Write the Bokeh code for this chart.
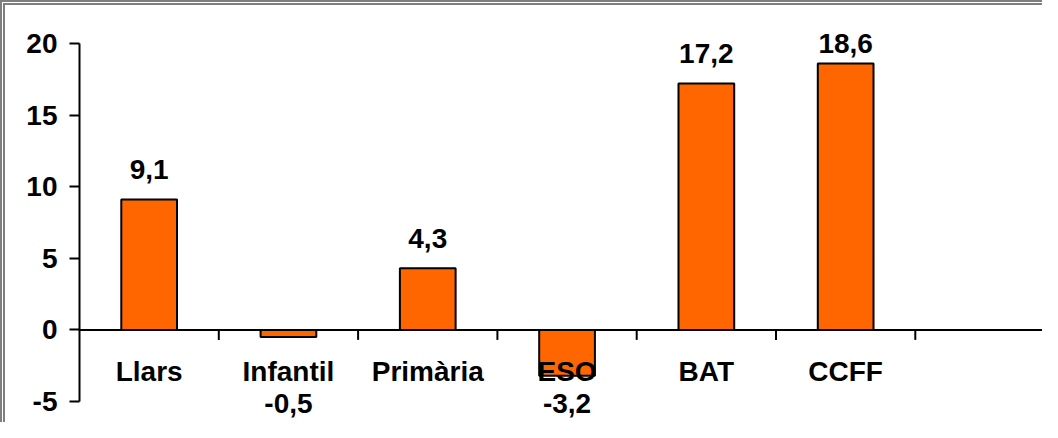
from bokeh.plotting import figure
from bokeh.models import Range1d, FixedTicker, Span, ColumnDataSource
from bokeh.core.properties import value
from bokeh.embed import file_html
from bokeh.resources import INLINE

# ---- data ----
categories = ["Llars", "Infantil", "Primària", "ESO", "BAT", "CCFF", ""]
values = [9.1, -0.5, 4.3, -3.2, 17.2, 18.6]
y_ticks = [-5, 0, 5, 10, 15, 20]

# ---- layout constants ----
Y_MIN, Y_MAX = -5, 20
W, H = 1042, 422
LEFT = 74
TOP20 = 38
PX = 14.32  # pixels per unit
X_END = (W - LEFT) / 139.3
Y_TOP = Y_MAX + TOP20 / PX
Y_BOT = Y_MIN - (H - TOP20 - (Y_MAX - Y_MIN) * PX) / PX

FONT = "Liberation Sans"
ORANGE = "#FF6600"

n = len(values)
centers = [i + 0.5 for i in range(n)]
val_text = [f"{v:.1f}".replace(".", ",") for v in values]
val_y = [min(v + 30 / PX, Y_MAX) if v >= 0 else Y_MIN for v in values]
val_off = [0 if v >= 0 else 2 for v in values]

bars = ColumnDataSource(dict(x=centers, top=values))
vlab = ColumnDataSource(dict(x=centers, y=val_y, text=val_text, off=val_off))
clab = ColumnDataSource(dict(x=[i + 0.5 for i in range(len(categories))],
                             y=[0] * len(categories), text=categories))
bounds = list(range(1, len(categories) + 1))
ticks = ColumnDataSource(dict(x=bounds, y0=[0] * len(bounds), y1=[-10 / PX] * len(bounds)))

p = figure(width=W, height=H, output_backend="svg", toolbar_location=None,
           x_axis_type=None,
           x_range=Range1d(0, X_END), y_range=Range1d(Y_BOT, Y_TOP),
           min_border_left=LEFT, min_border_right=0, min_border_top=0, min_border_bottom=0)
p.outline_line_color = None
p.ygrid.visible = False
p.background_fill_color = "white"
p.border_fill_color = "white"
p.styles = {"border-left": "5px double #7f7f7f", "border-top": "5px double #7f7f7f"}

ax = p.yaxis[0]
ax.ticker = FixedTicker(ticks=y_ticks)
ax.major_label_overrides = {t: str(t) for t in y_ticks}
ax.bounds = (Y_MIN, Y_MAX)
ax.major_tick_in = 0
ax.major_tick_out = 10
ax.minor_tick_in = 0
ax.minor_tick_out = 0
ax.axis_line_width = 2
ax.major_tick_line_width = 2
ax.major_label_standoff = 12
ax.major_label_text_font = FONT
ax.major_label_text_font_style = "bold"
ax.major_label_text_font_size = "28px"
ax.major_label_text_color = "black"

p.vbar(x="x", top="top", bottom=0, width=0.4, source=bars,
       fill_color=ORANGE, line_color="black", line_width=2)

p.add_layout(Span(location=0, dimension="width", line_color="black", line_width=2))
p.segment(x0="x", y0="y0", x1="x", y1="y1", source=ticks, line_color="black", line_width=2)

p.text(x="x", y="y", text="text", source=clab, y_offset=42,
       text_font=value(FONT), text_font_style="bold", text_font_size="28px",
       text_align="center", text_baseline="middle", text_color="black")
p.text(x="x", y="y", text="text", source=vlab, y_offset="off",
       text_font=value(FONT), text_font_style="bold", text_font_size="28px",
       text_align="center", text_baseline="middle", text_color="black")

open("out.html", "w").write(file_html(p, INLINE))
